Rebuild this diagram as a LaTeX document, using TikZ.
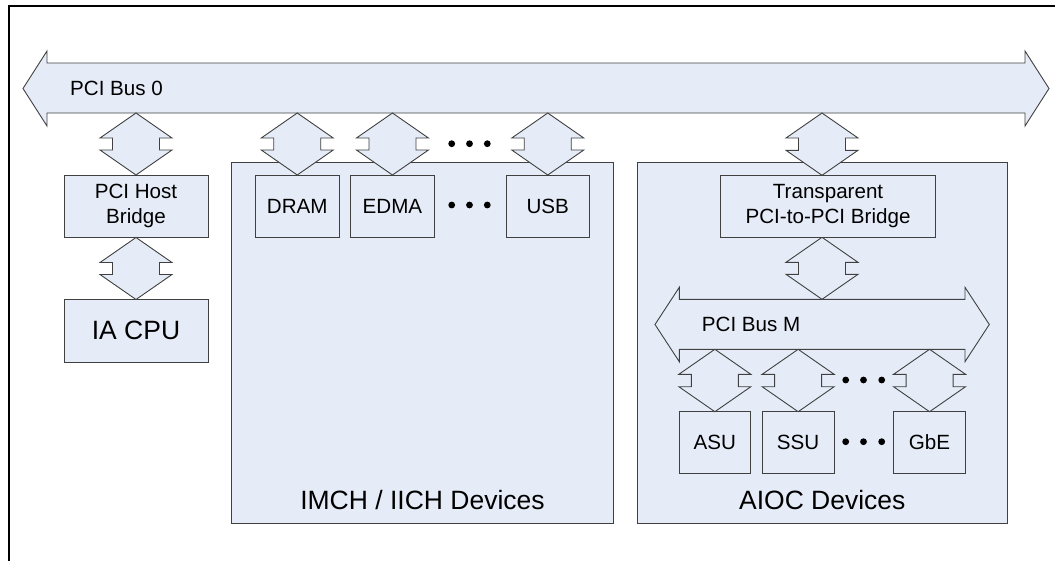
\documentclass[tikz,border=0pt]{standalone}
\usepackage{fontspec}
\setmainfont{Liberation Sans}
\usetikzlibrary{calc}
\definecolor{boxfill}{HTML}{E6ECF7}
\definecolor{edge}{HTML}{404040}
\tikzset{
  conn/.style={draw=edge, fill=boxfill, line width=0.9pt, line join=miter},
  cont/.style={draw=edge, fill=boxfill, line width=0.9pt, rectangle, inner sep=0pt, outer sep=0pt, anchor=north west},
  unit/.style={draw=edge, fill=boxfill, line width=0.9pt, rectangle, inner sep=0pt, outer sep=0pt, anchor=north west, align=center, font=\fontsize{20.6}{25}\selectfont},
  bigunit/.style={unit, font=\fontsize{26.5}{30}\selectfont},
  lbl/.style={inner sep=0pt, font=\fontsize{20.6}{25}\selectfont},
  biglbl/.style={inner sep=0pt, font=\fontsize{26.5}{30}\selectfont},
  dotmark/.style={fill=black}
}
\newcommand\dblarr[2]{%
  \path (#1) coordinate (dA);
  \path (#2) coordinate (dB);
  \draw[conn] (dA) -- ($(dA)+(36,25)$) -- ($(dA)+(23.5,25)$) -- ($(dB)+(23.5,-25)$)
    -- ($(dB)+(36,-25)$) -- (dB) -- ($(dB)+(-36,-25)$) -- ($(dB)+(-23.5,-25)$)
    -- ($(dA)+(-23.5,25)$) -- ($(dA)+(-36,25)$) -- cycle;}
\begin{document}
\begin{tikzpicture}[x=1pt,y=-1pt]
\useasboundingbox (0,0) rectangle (1055,560);
% outer frame
\draw[black, line width=2pt] (1070,5.5) -- (9,5.5) -- (9,575);
% main bus
\draw[conn] (23,88.5) -- (47,51) -- (47,63) -- (1025,63) -- (1025,51) -- (1049,88.5)
  -- (1025,126) -- (1025,113) -- (47,113) -- (47,126) -- cycle;
\coordinate (b0) at (0,113);
\node[lbl, anchor=west] (bus0lbl) at (70,88) {PCI Bus 0};
% containers
\node[cont, minimum width=382, minimum height=361] (imch) at (231.5,162.5) {};
\node[biglbl] (imchlbl) at (422.5,500) {IMCH / IICH Devices};
\node[cont, minimum width=370, minimum height=361] (aioc) at (637.3,162.3) {};
\node[biglbl] (aioclbl) at (822.3,500) {AIOC Devices};
% left column
\node[unit, minimum width=144, minimum height=62.5] (hb) at (64,175) {PCI Host\\Bridge};
\node[bigunit, minimum width=144, minimum height=62.5] (cpu) at (64,299.5) {IA CPU};
% IMCH devices
\node[unit, minimum width=83.5, minimum height=62.5] (dram) at (255.5,175) {DRAM};
\node[unit, minimum width=83.5, minimum height=62.5] (edma) at (350.7,175) {EDMA};
\node[unit, minimum width=83.5, minimum height=62.5] (usb) at (506,175) {USB};
% AIOC
\node[unit, minimum width=215.5, minimum height=62] (ppb) at (720.3,175.3) {Transparent\\PCI-to-PCI Bridge};
% bus M
\draw[conn] (655,324.5) -- (679.3,287.3) -- (679.3,299.3) -- (965,299.3) -- (965,287.3) -- (989.3,324.5)
  -- (965,361.7) -- (965,349.3) -- (679.3,349.3) -- (679.3,361.7) -- cycle;
\coordinate (bmt) at (0,299.3);
\coordinate (bmb) at (0,349.3);
\node[lbl, anchor=west] (busMlbl) at (701.7,324) {PCI Bus M};
\node[unit, minimum width=71.7, minimum height=61.6] (asu) at (679,411.7) {ASU};
\node[unit, minimum width=71.7, minimum height=61.6] (ssu) at (762.3,411.7) {SSU};
\node[unit, minimum width=71.7, minimum height=61.6] (gbe) at (893.7,411.7) {GbE};
% double arrows
\dblarr{b0 -| hb.north}{hb.north}
\dblarr{hb.south}{cpu.north}
\dblarr{b0 -| dram.north}{dram.north}
\dblarr{b0 -| edma.north}{edma.north}
\dblarr{b0 -| usb.north}{usb.north}
\dblarr{b0 -| 822,0}{822,175.3}
\dblarr{822,237.3}{bmt -| 822,0}
\dblarr{bmb -| asu.north}{asu.north}
\dblarr{bmb -| ssu.north}{ssu.north}
\dblarr{bmb -| gbe.north}{gbe.north}
% ellipses
\foreach \x in {451.7,469.5,487.3}{
  \fill[dotmark] (\x,143.7) circle (3.4);
  \fill[dotmark] (\x,205) circle (3.4);}
\foreach \x in {845.7,863.5,881.7}{
  \fill[dotmark] (\x,380) circle (3.4);
  \fill[dotmark] (\x,441.7) circle (3.4);}
\end{tikzpicture}
\end{document}
